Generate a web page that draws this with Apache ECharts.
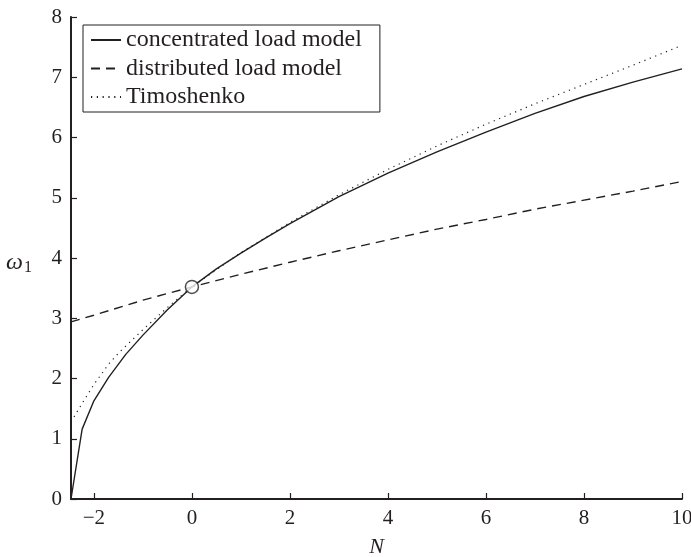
<!DOCTYPE html>
<html>
<head>
<meta charset="utf-8">
<script src="https://cdn.jsdelivr.net/npm/echarts@6/dist/echarts.min.js"></script>
<style>html,body{margin:0;padding:0;background:#fff}#c{width:691px;height:557px}</style>
</head>
<body>
<div id="c"></div>
<script>
// ---- data ----
var nConc = [-2.4674, -2.24, -2.0, -1.7, -1.35, -1.0, -0.5, 0, 0.5, 1, 1.5, 2, 3, 4, 5, 6, 7, 8, 9, 10];
var wConc = [0, 1.16, 1.63, 2.02, 2.40, 2.72, 3.14, 3.52, 3.82, 4.08, 4.33, 4.57, 5.02, 5.41, 5.76, 6.09, 6.40, 6.68, 6.92, 7.14];

var nDist = [-2.4674, -2, -1, 0, 1, 2, 3, 4, 5, 6, 7, 8, 9, 10];
var wDist = [2.94, 3.05, 3.30, 3.52, 3.73, 3.93, 4.12, 4.30, 4.48, 4.64, 4.81, 4.96, 5.11, 5.27];

var nTimo = [-2.4674, -2.2, -2.0, -1.7, -1.5, -1.0, -0.5, 0, 1, 2, 3, 4, 5, 6, 7, 8, 9, 10];
var wTimo = [1.28, 1.64, 1.90, 2.24, 2.42, 2.81, 3.18, 3.52, 4.09, 4.59, 5.05, 5.47, 5.86, 6.22, 6.56, 6.88, 7.20, 7.53];

var markN = [0];
var markW = [3.52];

var xTicks = [-2, 0, 2, 4, 6, 8, 10];
var seriesNames = ['concentrated load model', 'distributed load model', 'Timoshenko'];

function pairs(xs, ys) { return xs.map(function (x, i) { return [x, ys[i]]; }); }

var FONT = 'Liberation Serif';
var INK = '#231f20';

var chart = echarts.init(document.getElementById('c'), null, {renderer: 'canvas'});
chart.setOption({
  animation: false,
  backgroundColor: '#fff',
  grid: {left: 71, right: 9, top: 17, bottom: 58, containLabel: false, outerBoundsMode: 'none'},
  legend: {
    data: seriesNames,
    left: 83, top: 25,
    orient: 'vertical',
    itemWidth: 30, itemHeight: 14, itemGap: 4.5,
    padding: [3, 18, 3, 7],
    borderColor: INK, borderWidth: 1,
    backgroundColor: '#fff',
    itemStyle: {color: 'rgba(0,0,0,0)', borderColor: 'rgba(0,0,0,0)', borderWidth: 0},
    textStyle: {fontFamily: FONT, fontSize: 24, color: INK, lineHeight: 24}
  },
  xAxis: {
    type: 'value', min: -2.4674, max: 10,
    name: 'N', nameLocation: 'middle', nameGap: 37,
    nameTextStyle: {fontFamily: FONT, fontSize: 22, fontStyle: 'italic', color: INK},
    axisLine: {onZero: false, lineStyle: {color: INK, width: 2}},
    axisTick: {inside: true, length: 6, lineStyle: {color: INK, width: 1.2}, customValues: xTicks},
    axisLabel: {
      customValues: xTicks, margin: 9,
      fontFamily: FONT, fontSize: 21, color: INK,
      formatter: function (v) { return String(v).replace('-', '\u2212'); }
    },
    splitLine: {show: false}
  },
  yAxis: {
    type: 'value', min: 0, max: 8, interval: 1,
    name: '{w|ω}{s|1}', nameLocation: 'middle', nameGap: 39, nameRotate: 0,
    nameTextStyle: {
      color: INK, padding: [10, 0, 0, 0],
      rich: {
        w: {fontFamily: FONT, fontSize: 24, fontStyle: 'italic', color: INK},
        s: {fontFamily: FONT, fontSize: 16, color: INK, padding: [10, 0, 0, 1]}
      }
    },
    axisLine: {onZero: false, lineStyle: {color: INK, width: 2}},
    axisTick: {inside: true, length: 6, lineStyle: {color: INK, width: 1.2}},
    axisLabel: {margin: 9, fontFamily: FONT, fontSize: 21, color: INK},
    splitLine: {show: false}
  },
  series: [
    {
      name: seriesNames[0], type: 'line', data: pairs(nConc, wConc),
      symbol: 'none', smooth: false, z: 3,
      lineStyle: {color: INK, width: 1.4, type: 'solid'},
      itemStyle: {color: INK}
    },
    {
      name: seriesNames[1], type: 'line', data: pairs(nDist, wDist),
      symbol: 'none', z: 2,
      lineStyle: {color: INK, width: 1.4, type: [9, 6]},
      itemStyle: {color: INK}
    },
    {
      name: seriesNames[2], type: 'line', data: pairs(nTimo, wTimo),
      symbol: 'none', z: 2,
      lineStyle: {color: INK, width: 1.2, type: [1.2, 4.6]},
      itemStyle: {color: INK}
    },
    {
      name: 'marker', type: 'scatter', data: pairs(markN, markW),
      symbol: 'circle', symbolSize: 13, z: 5,
      itemStyle: {color: '#fff', borderColor: INK, borderWidth: 1.5}
    }
  ]
});
</script>
</body>
</html>
